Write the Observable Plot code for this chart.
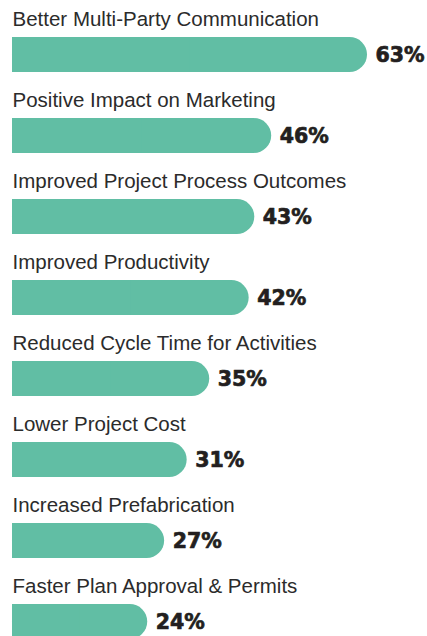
<!DOCTYPE html>
<html>
<head>
<meta charset="utf-8">
<script src="https://cdn.jsdelivr.net/npm/d3@7"></script>
<script src="https://cdn.jsdelivr.net/npm/@observablehq/plot@0.6"></script>
<style>
  html, body { margin: 0; padding: 0; background: #fff; }
  #chart { width: 427px; height: 636px; overflow: hidden; }
</style>
</head>
<body>
<div id="chart"></div>
<script>
const categories = [
  "Better Multi-Party Communication",
  "Positive Impact on Marketing",
  "Improved Project Process Outcomes",
  "Improved Productivity",
  "Reduced Cycle Time for Activities",
  "Lower Project Cost",
  "Increased Prefabrication",
  "Faster Plan Approval & Permits"
];
const values = [63, 46, 43, 42, 35, 31, 27, 24];
const valueLabels = ["63%", "46%", "43%", "42%", "35%", "31%", "27%", "24%"];

const data = categories.map((c, i) => ({category: c, value: values[i], label: valueLabels[i]}));

const barColor = "#61bea4";
const chart = Plot.plot({
  width: 427,
  height: 636,
  margin: 0,
  x: {domain: [0, 63], range: [12, 367], axis: null},
  y: {domain: categories, range: [0, 648], padding: 0, axis: null},
  marks: [
    Plot.barX(data, {x: "value", y: "category", fill: barColor, rx: 17.5, insetTop: 37, insetBottom: 9}),
    Plot.barX(data, {x1: 0, x2: d => d.value / 2, y: "category", fill: barColor, insetTop: 37, insetBottom: 9}),
    Plot.text(data, {x: 0, y: "category", text: "category", textAnchor: "start", dy: -22, fill: "#2b2b2b",
      fontSize: 20.5, fontFamily: "'Liberation Sans Narrow', 'Liberation Sans', Arial, sans-serif"}),
    Plot.text(data, {x: "value", y: "category", text: "label", textAnchor: "start", dx: 8, dy: 14.5, fill: "#231f20",
      stroke: "#231f20", strokeWidth: 0.7,
      fontSize: 20.5, fontWeight: "bold", fontFamily: "'DejaVu Sans', sans-serif"})
  ]
});
document.getElementById("chart").appendChild(chart);
</script>
</body>
</html>
